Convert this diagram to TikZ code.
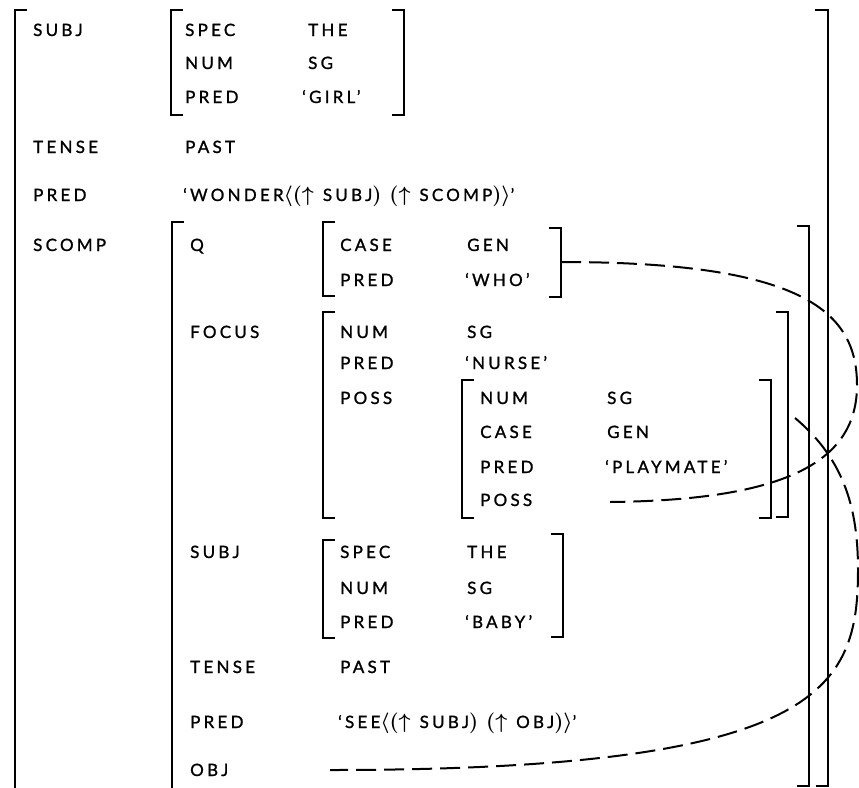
\documentclass[tikz,border=0pt]{standalone}
\usepackage{fontspec}
\setmainfont{Lato}[LetterSpace=19,FakeBold=1.2]
\usetikzlibrary{positioning}
\newcommand{\fsym}[1]{{\fontsize{22}{22}\selectfont\boldmath$#1$}}

\begin{document}
\begin{tikzpicture}[x=1pt,y=-1pt,
  lbl/.style={anchor=base west,inner sep=0pt,font=\fontsize{17}{20}\selectfont},
  brk/.style={line width=1.1pt},
  link/.style={line width=2pt,dash pattern=on 20pt off 8pt}]
  \useasboundingbox (0,0) rectangle (859,787);
  % outer f-structure
  \draw[brk] (27,10) -| (15,790);
  \draw[brk] (815,10) -| (828,786) -- +(-12,0);
  \node[lbl] (subj) at (33,36) {SUBJ};
  \node[lbl] (tense) at (33,153) {TENSE};
  \node[lbl] (pred) at (33,201) {PRED};
  \node[lbl] (scomp) at (33,251) {SCOMP};
  % subject
  \draw[brk] (183,10) -| (171,115) -- +(12,0);
  \draw[brk] (392,10) -| (404,115) -- +(-12,0);
  \node[lbl] (sSpec) at (185,36) {SPEC};
  \node[lbl] (sNum) at (185,69) {NUM};
  \node[lbl] (sPred) at (185,103) {PRED};
  \node[lbl] (sSpecV) at (308,36) {THE};
  \node[lbl] (sNumV) at (308,69) {SG};
  \node[lbl] (sPredV) at (302,103) {`GIRL'};
  \node[lbl] (tenseV) at (185,153) {PAST};
  \node[lbl] (predV) at (183,201)
    {`WONDER\fsym{\langle(\uparrow}\hspace{9pt}SUBJ\fsym{)}\hspace{8pt}\fsym{(\uparrow}\hspace{9pt}SCOMP\fsym{)\rangle}'};
  % scomp
  \draw[brk] (184,222) -| (172,790);
  \draw[brk] (797,226) -| (809,786) -- +(-12,0);
  \node[lbl] (q) at (190,251) {Q};
  \node[lbl] (focus) at (190,338) {FOCUS};
  \node[lbl] (cSubj) at (190,558) {SUBJ};
  \node[lbl] (cTense) at (190,673) {TENSE};
  \node[lbl] (cPred) at (190,728) {PRED};
  \node[lbl] (cObj) at (190,776) {OBJ};
  \node[lbl] (cTenseV) at (340,673) {PAST};
  \node[lbl] (cPredV) at (338,728)
    {`SEE\fsym{\langle(\uparrow}\hspace{9pt}SUBJ\fsym{)}\hspace{8pt}\fsym{(\uparrow}\hspace{9pt}OBJ\fsym{)\rangle}'};
  % q
  \draw[brk] (335,222) -| (323,296) -- +(12,0);
  \draw[brk] (549,228) -| (561,297) -- +(-12,0);
  \node[lbl] (qCase) at (340,251) {CASE};
  \node[lbl] (qPred) at (340,286) {PRED};
  \node[lbl] (qCaseV) at (467,251) {GEN};
  \node[lbl] (qPredV) at (465,286) {`WHO'};
  % focus
  \draw[brk] (335,312) -| (323,518) -- +(12,0);
  \draw[brk] (776,312) -| (788,517) -- +(-12,0);
  \node[lbl] (fNum) at (340,338) {NUM};
  \node[lbl] (fPred) at (340,369) {PRED};
  \node[lbl] (fPoss) at (340,404) {POSS};
  \node[lbl] (fNumV) at (467,338) {SG};
  \node[lbl] (fPredV) at (465,369) {`NURSE'};
  % poss
  \draw[brk] (474,380) -| (462,518) -- +(12,0);
  \draw[brk] (759,380) -| (771,518) -- +(-12,0);
  \node[lbl] (pNum) at (480,404) {NUM};
  \node[lbl] (pCase) at (480,438) {CASE};
  \node[lbl] (pPred) at (480,473) {PRED};
  \node[lbl] (pPoss) at (480,506) {POSS};
  \node[lbl] (pNumV) at (607,404) {SG};
  \node[lbl] (pCaseV) at (607,438) {GEN};
  \node[lbl] (pPredV) at (605,473) {`PLAYMATE'};
  % embedded subject
  \draw[brk] (335,540) -| (323,638) -- +(12,0);
  \draw[brk] (551,534) -| (563,637) -- +(-12,0);
  \node[lbl] (eSpec) at (340,558) {SPEC};
  \node[lbl] (eNum) at (340,594) {NUM};
  \node[lbl] (ePred) at (340,628) {PRED};
  \node[lbl] (eSpecV) at (467,558) {THE};
  \node[lbl] (eNumV) at (467,594) {SG};
  \node[lbl] (ePredV) at (465,628) {`BABY'};
  % identity links
  \coordinate (whoEnd) at (561,262);
  \coordinate (possEnd) at (610,502);
  \coordinate (focusEnd) at (795,418);
  \coordinate (objEnd) at (330,770);
  \draw[link] (whoEnd) .. controls (800,262) and (857,310) .. (857,385)
    .. controls (857,460) and (790,500) .. (possEnd);
  \draw[link] (focusEnd) .. controls (845,460) and (858,510) .. (858,570)
    .. controls (858,690) and (820,770) .. (objEnd);
\end{tikzpicture}
\end{document}
